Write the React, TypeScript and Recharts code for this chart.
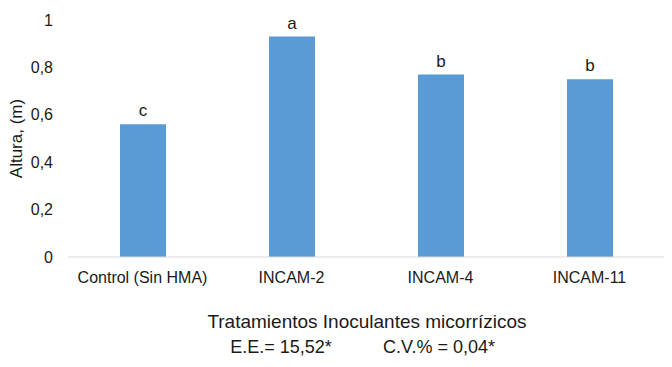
import { BarChart, Bar, XAxis, YAxis, LabelList } from "recharts";

const categories = ["Control (Sin HMA)", "INCAM-2", "INCAM-4", "INCAM-11"];
const heights = [0.56, 0.93, 0.77, 0.75];
const letters = ["c", "a", "b", "b"];
const yTicks = [0, 0.2, 0.4, 0.6, 0.8, 1];

const data = categories.map((name, i) => ({ name, value: heights[i], letter: letters[i] }));

const FONT = "'Liberation Sans', Arial, sans-serif";
const TEXT = "#1a1a1a";
const fmt = (v: number) => String(v).replace(".", ",");

// two-line footer under the category axis
function Footer({ viewBox }: any) {
  const cx = viewBox.x + viewBox.width / 2 + 1;
  const y = viewBox.y + viewBox.height;
  return (
    <g fontFamily={FONT} fill={TEXT}>
      <text x={cx} y={y + 41} textAnchor="middle" fontSize={19}>Tratamientos Inoculantes micorrízicos</text>
      <text x={cx - 86} y={y + 66} textAnchor="middle" fontSize={18}>E.E.= 15,52*</text>
      <text x={cx + 72} y={y + 66} textAnchor="middle" fontSize={18}>C.V.% = 0,04*</text>
    </g>
  );
}

export default function App() {
  document.body.style.margin = "0";
  return (
    <div style={{ width: 672, height: 367, background: "#fff" }}>
      <BarChart width={672} height={367} data={data} margin={{ top: 20, right: 8, left: 0, bottom: 80 }}>
        <XAxis
          dataKey="name"
          height={30}
          tickLine={false}
          axisLine={{ stroke: "#d9d9d9" }}
          tick={{ fontSize: 16, fill: TEXT, fontFamily: FONT }}
          tickMargin={9}
          interval={0}
          label={<Footer />}
        />
        <YAxis
          width={68}
          domain={[0, 1]}
          ticks={yTicks}
          tickFormatter={fmt}
          tickLine={false}
          axisLine={false}
          tickSize={6}
          tickMargin={9}
          tick={{ fontSize: 16, fill: TEXT, fontFamily: FONT }}
          label={{
            value: "Altura, (m)",
            angle: -90,
            position: "insideLeft",
            offset: 16,
            style: { fontSize: 17, fill: TEXT, fontFamily: FONT, textAnchor: "middle" },
          }}
        />
        <Bar dataKey="value" fill="#5b9bd5" barSize={46} isAnimationActive={false}>
          <LabelList dataKey="letter" position="top" offset={8} style={{ fontSize: 17, fill: TEXT, fontFamily: FONT }} />
        </Bar>
      </BarChart>
    </div>
  );
}
